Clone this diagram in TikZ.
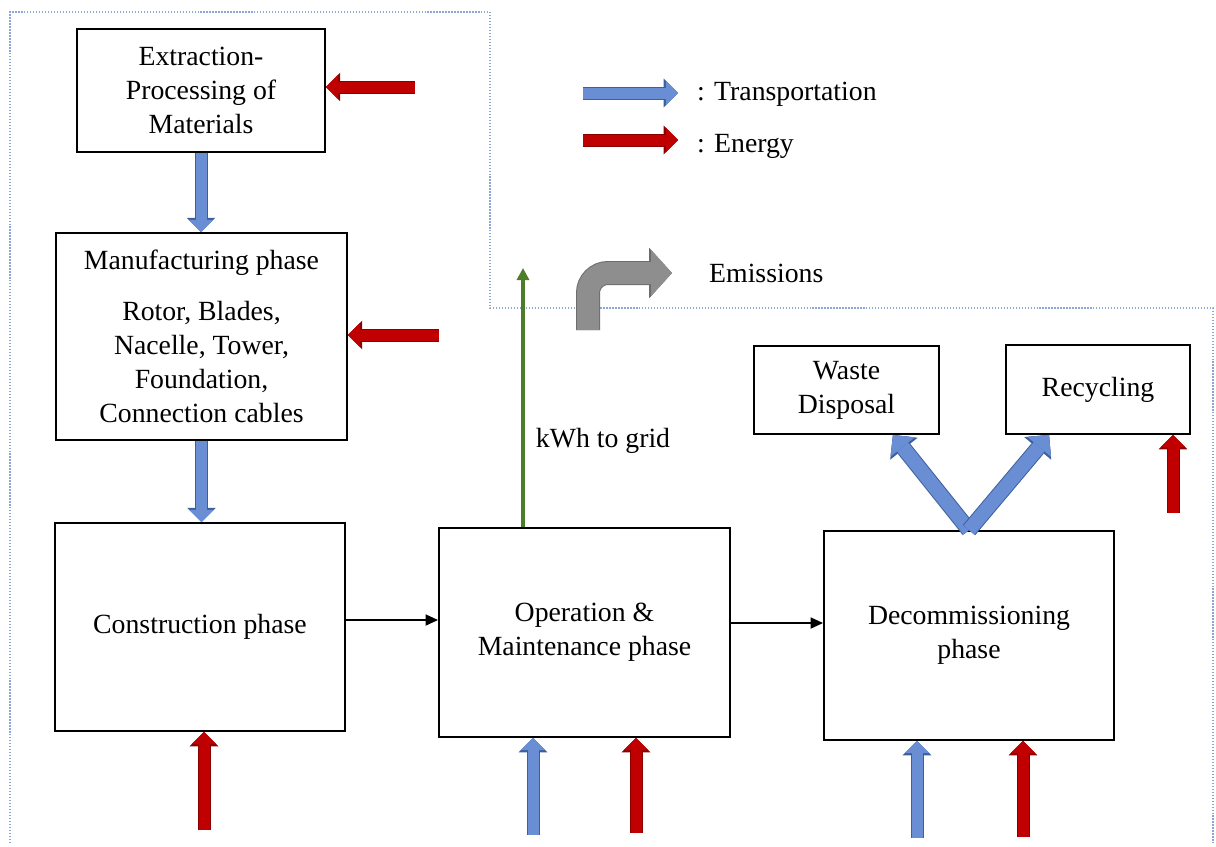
\documentclass[tikz,border=0pt]{standalone}
\usepackage{fontspec}
\setmainfont{Liberation Serif}
\usetikzlibrary{arrows.meta,positioning}

\definecolor{transpfill}{HTML}{6A8ED4}
\definecolor{transpline}{HTML}{3E5F9E}
\definecolor{energyfill}{HTML}{C00000}
\definecolor{energyline}{HTML}{8A0000}
\definecolor{emisfill}{HTML}{8E8E8E}
\definecolor{emisline}{HTML}{6C6C6C}
\definecolor{gridgreen}{HTML}{4E7D2A}
\definecolor{frameblue}{HTML}{8EA6D6}

\begin{document}
\begin{tikzpicture}[x=0.02cm, y=-0.02cm,
  every node/.style={font=\fontsize{15.8}{19.3}\selectfont},
  phase/.style={draw, line width=1.1pt, fill=white, align=center, inner sep=2pt},
  blockarrow/.style={line width=0.22cm, -{Triangle[width=0pt 2.2 0, length=0pt 1.1 0, line width=0pt 0 0]}},
  transport/.style={blockarrow, draw=transpfill, preaction={draw=transpline, line width=0.26cm}},
  widetransport/.style={transport, line width=0.28cm, preaction={draw=transpline, line width=0.32cm}},
  energy/.style={blockarrow, draw=energyfill, preaction={draw=energyline, line width=0.26cm}},
  emission/.style={line width=0.44cm, draw=emisfill, -{Triangle[width=0pt 2.1 0, length=0pt 0.95 0, line width=0pt 0 0]}, preaction={draw=emisline, line width=0.48cm}},
  flow/.style={line width=1pt, -{Triangle[length=0.25cm, width=0.22cm]}},
  gridline/.style={line width=1.8pt, draw=gridgreen, -{Triangle[length=0.24cm, width=0.24cm]}},
  frame/.style={densely dotted, draw=frameblue, line width=0.7pt}
]

% system boundary
\draw[frame] (10,843) -- (10,12) -- (490,12) -- (490,308) -- (1213,308) -- (1213,843);

% phases
\node[phase, minimum width=4.96cm, minimum height=2.46cm] (extraction) at (201,90.5) {Extraction-\\Processing of\\Materials};
\node[phase, minimum width=5.82cm, minimum height=4.14cm] (manufacturing) at (201.5,336.5) {Manufacturing phase\\[0.34cm]Rotor, Blades,\\Nacelle, Tower,\\Foundation,\\Connection cables};
\node[phase, minimum width=5.8cm, minimum height=4.16cm] (construction) at (200,627) {Construction phase};
\node[phase, minimum width=5.82cm, minimum height=4.18cm] (operation) at (584.5,632.5) {Operation \&\\Maintenance phase};
\node[phase, minimum width=5.8cm, minimum height=4.18cm] (decommissioning) at (969,635.5) {Decommissioning\\phase};
\node[phase, minimum width=3.7cm, minimum height=1.76cm] (waste) at (846.5,390) {Waste\\Disposal};
\node[phase, minimum width=3.68cm, minimum height=1.78cm] (recycling) at (1098,389.5) {Recycling};

% labels
\node (grid) at (603,441) {kWh to grid};
\node[anchor=west] (emissions) at (703,273) {Emissions};
\node[anchor=west] (transplabel) at (691,94) {: Transportation};
\node[anchor=west] (energylabel) at (691,146) {: Energy};

% legend
\coordinate (legT) at (583,93);
\coordinate (legE) at (583,140);
\draw[transport] (legT) -- ++(95,0);
\draw[energy] (legE) -- ++(95,0);

% material flow
\draw[transport] (extraction.south) -- (extraction.south |- manufacturing.north);
\draw[transport] (manufacturing.south) -- (manufacturing.south |- construction.north);
\draw[flow] ([yshift=0.14cm]construction.east) -- ([yshift=0.14cm]construction.east -| operation.west);
\draw[flow] ([yshift=0.19cm]operation.east) -- ([yshift=0.19cm]operation.east -| decommissioning.west);

% end of life
\coordinate (wtip) at ([xshift=-0.94cm]waste.south east);
\coordinate (rtip) at ([xshift=0.88cm]recycling.south west);
\draw[widetransport] (decommissioning.north) -- (wtip);
\draw[widetransport] (decommissioning.north) -- (rtip);

% outputs
\coordinate (gridtop) at (523,268);
\draw[gridline] (gridtop |- operation.north) -- (gridtop);
\coordinate (embase) at (588,330);
\coordinate (emtip) at (672,273);
\draw[emission, rounded corners=0.4cm] (embase) |- (emtip);

% energy and transport inputs
\coordinate (e1) at (415,87);
\coordinate (e2) at (439,335);
\coordinate (e3) at (204,830);
\coordinate (t1) at (533,835);
\coordinate (e4) at (636,833);
\coordinate (t2) at (917,838);
\coordinate (e5) at (1023,837);
\coordinate (e6) at (1173,513);
\draw[energy] (e1) -- (e1 -| extraction.east);
\draw[energy] (e2) -- (e2 -| manufacturing.east);
\draw[energy] (e3) -- (e3 |- construction.south);
\draw[transport] (t1) -- (t1 |- operation.south);
\draw[energy] (e4) -- (e4 |- operation.south);
\draw[transport] (t2) -- (t2 |- decommissioning.south);
\draw[energy] (e5) -- (e5 |- decommissioning.south);
\draw[energy] (e6) -- (e6 |- recycling.south);

\useasboundingbox (0,0) rectangle (1216,846);
\end{tikzpicture}
\end{document}
